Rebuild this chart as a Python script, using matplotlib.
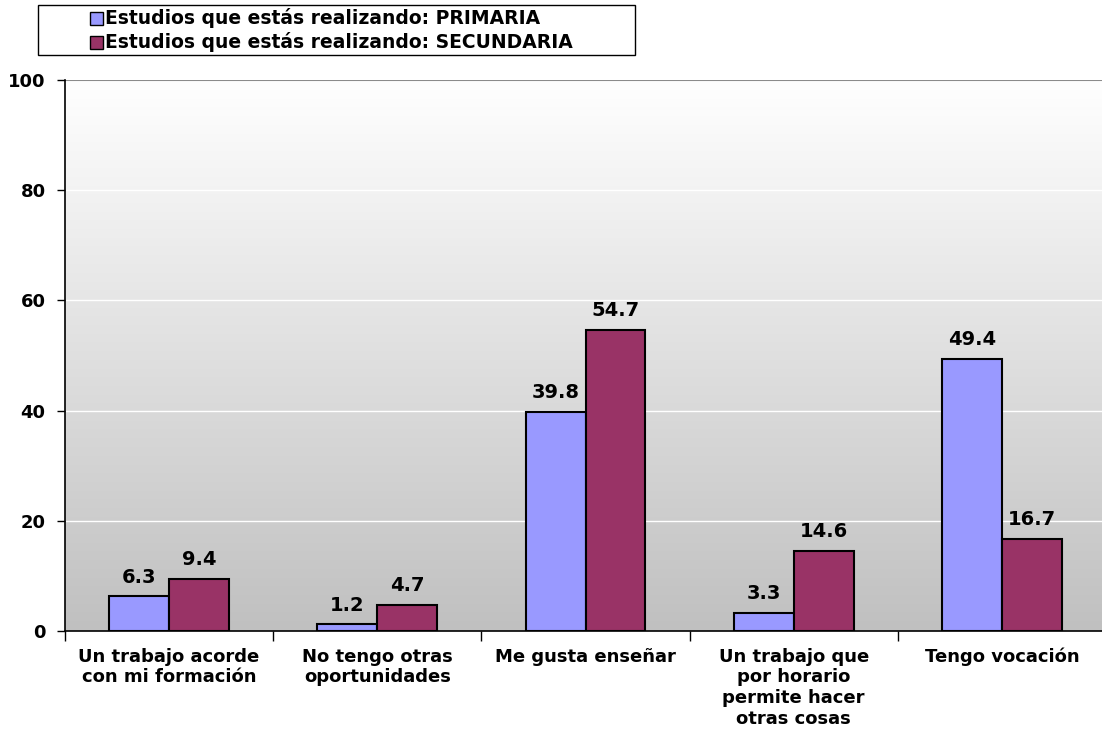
import numpy as np
import matplotlib
matplotlib.use("Agg")
import matplotlib.pyplot as plt
from matplotlib.patches import Rectangle
from matplotlib.colors import LinearSegmentedColormap

# datos ----------------------------------------------------------
categorias = ["Un trabajo acorde\ncon mi formación",
              "No tengo otras\noportunidades",
              "Me gusta enseñar",
              "Un trabajo que\npor horario\npermite hacer\notras cosas",
              "Tengo vocación"]
primaria = [6.3, 1.2, 39.8, 3.3, 49.4]
secundaria = [9.4, 4.7, 54.7, 14.6, 16.7]
series = ["Estudios que estás realizando: PRIMARIA",
          "Estudios que estás realizando: SECUNDARIA"]
y_ticks = [0, 20, 40, 60, 80, 100]

col_pri = "#9999FF"
col_sec = "#993366"

plt.rcParams['font.family'] = ['DejaVu Sans']
plt.rcParams['font.weight'] = 'bold'

W, H = 1102, 731
fig = plt.figure(figsize=(W / 100, H / 100), dpi=100)
ax = fig.add_axes([65 / W, (H - 631) / H, 1041 / W, 551 / H])

# fondo degradado
grad = np.linspace(0, 1, 256).reshape(-1, 1)
cmap = LinearSegmentedColormap.from_list("g", ["#c0c0c0", "#ffffff"])
ax.imshow(grad, cmap=cmap, aspect="auto", extent=[-0.5, 4.5, 0, 100],
          origin="lower", zorder=0)

x = np.arange(len(categorias))
ancho = 0.288
b1 = ax.bar(x - ancho / 2, primaria, ancho, color=col_pri, edgecolor="black",
            linewidth=1.5, zorder=3)
b2 = ax.bar(x + ancho / 2, secundaria, ancho, color=col_sec, edgecolor="black",
            linewidth=1.5, zorder=3)

for barras, vals in [(b1, primaria), (b2, secundaria)]:
    for b, v in zip(barras, vals):
        ax.annotate(f"{v:.1f}", (b.get_x() + b.get_width() / 2, v),
                    xytext=(0, 7), textcoords="offset points",
                    ha="center", va="bottom", fontsize=14,
                    fontweight="bold", zorder=4)

for yv in y_ticks[1:-1]:
    ax.axhline(yv, color="white", linewidth=1, zorder=1)
ax.axhline(100, color="#8c8c8c", linewidth=1.5, zorder=1)

ax.set_xlim(-0.5, 4.5)
ax.set_ylim(0, 100)
ax.set_yticks(y_ticks)
ax.set_yticklabels([str(v) for v in y_ticks], fontsize=13, fontweight="bold")
ax.set_xticks(x)
ax.set_xticklabels(categorias, fontsize=13, fontweight="bold",
                   linespacing=1.2, va="top")
ax.tick_params(axis="x", length=0, pad=12)
ax.tick_params(axis="y", length=6, width=1, direction="out", pad=8)
ax.set_xticks(np.arange(-0.5, 5, 1), minor=True)
ax.tick_params(axis="x", which="minor", length=7, width=1, direction="out")

for s in ["top", "right"]:
    ax.spines[s].set_visible(False)
ax.spines["left"].set_linewidth(1.2)
ax.spines["bottom"].set_linewidth(1.2)

# leyenda
fig.patches.append(Rectangle((38 / W, 1 - 55 / H), 597 / W, 50 / H,
                             transform=fig.transFigure, facecolor="white",
                             edgecolor="black", linewidth=1))
for i, (nombre, col) in enumerate(zip(series, [col_pri, col_sec])):
    yc = 1 - (18 + 24 * i) / H
    fig.patches.append(Rectangle((90 / W, yc - 6.5 / H), 13 / W, 13 / H,
                                 transform=fig.transFigure, facecolor=col,
                                 edgecolor="black", linewidth=1))
    fig.text(105 / W, yc, nombre, fontsize=13.5, fontweight="bold",
             va="center", ha="left")

fig.savefig("out.png", dpi=100, facecolor="white")
